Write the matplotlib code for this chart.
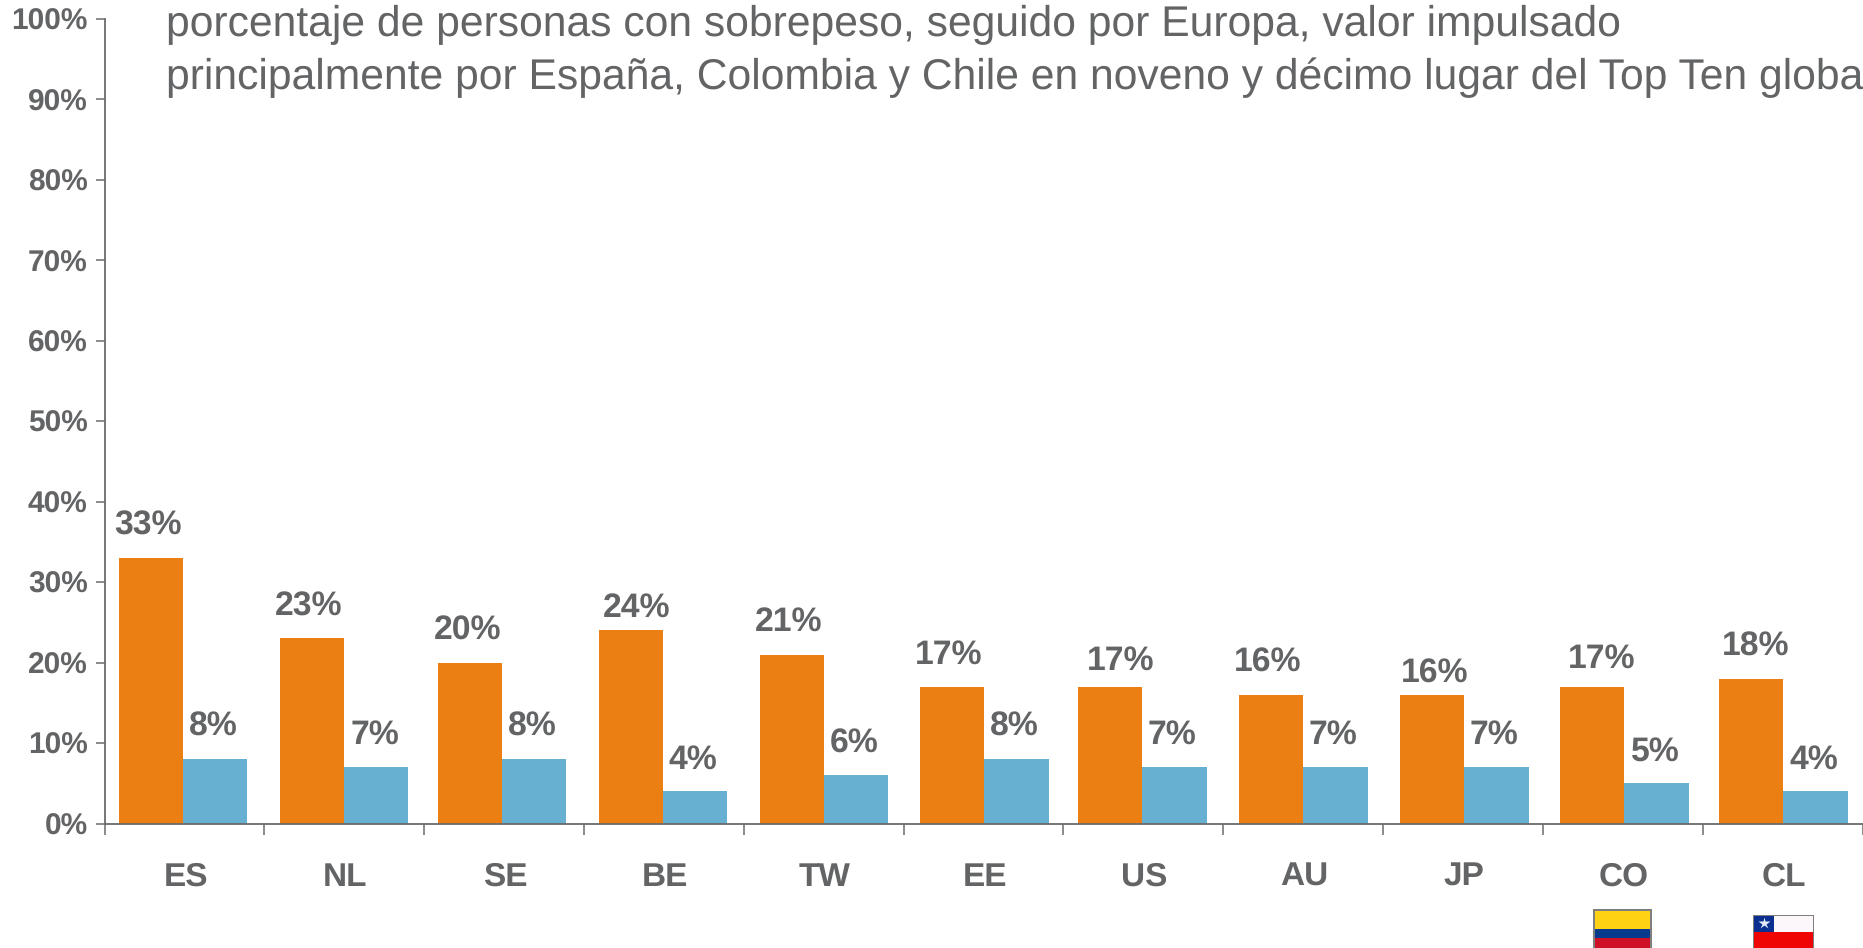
import matplotlib
matplotlib.use("Agg")
import matplotlib.pyplot as plt
from matplotlib.patches import Rectangle
import numpy as np

countries = ["ES", "NL", "SE", "BE", "TW", "EE", "US", "AU", "JP", "CO", "CL"]
orange_vals = [33, 23, 20, 24, 21, 17, 17, 16, 16, 17, 18]
blue_vals = [8, 7, 8, 4, 6, 8, 7, 7, 7, 5, 4]
y_ticks = [0, 10, 20, 30, 40, 50, 60, 70, 80, 90, 100]

# the groups are not quite evenly spaced in the original, pixels
group_nudge = [-1.4, -0.2, -2, -0.8, 0.4, 0.6, -1.2, 0, 1.2, 1.4, 0.6]

# nudges of the value labels, in pixels (x from bar centre, y above bar top)
orange_dx = [-2.5, -3, -2.5, 5.5, -3.5, -3, 10.5, -3, 3, 10, 5]
orange_dy = [23, 23, 23, 13, 23, 23, 17, 23, 12, 19, 23]
blue_dx = [-2, -1.5, -2, -2.5, -2, -1.5, -2, -2.5, -2, -1, -1.5]
blue_dy = [23, 23, 23, 23, 23, 23, 23, 23, 23, 23, 23]

text_lines = [
    "porcentaje de personas con sobrepeso, seguido por Europa, valor impulsado",
    "principalmente por España, Colombia y Chile en noveno y décimo lugar del Top Ten global",
]

GREY = "#636466"
ORANGE = "#EC7F13"
BLUE = "#68B0D1"
W, H = 1863, 948

plt.rcParams["font.family"] = ["Liberation Sans", "DejaVu Sans"]
plt.rcParams["text.hinting"] = "no_hinting"

fig = plt.figure(figsize=(W / 100, H / 100), dpi=100)
x0, x1, y0, y1 = 104.5, 1862.5, 823.5, 19.0
ax = fig.add_axes([x0 / W, 1 - y0 / H, (x1 - x0) / W, (y0 - y1) / H])
ax.set_xlim(0, len(countries))
ax.set_ylim(0, 100)

idx = np.arange(len(countries))
w = 0.403
px = len(countries) / (x1 - x0)
mid = idx + 0.5 + np.array(group_nudge) * px
ax.bar(mid - w, orange_vals, w, align="edge", color=ORANGE)
ax.bar(mid, blue_vals, w, align="edge", color=BLUE)

for i in idx:
    ax.annotate(f"{orange_vals[i]}%", (mid[i] - w / 2, orange_vals[i]),
                xytext=(orange_dx[i] * 0.72, orange_dy[i] * 0.72), textcoords="offset points",
                ha="center", va="baseline", fontsize=24.3, fontweight="bold", color=GREY)
    ax.annotate(f"{blue_vals[i]}%", (mid[i] + w / 2, blue_vals[i]),
                xytext=(blue_dx[i] * 0.72, blue_dy[i] * 0.72), textcoords="offset points",
                ha="center", va="baseline", fontsize=24.3, fontweight="bold", color=GREY)

for side in ["top", "right"]:
    ax.spines[side].set_visible(False)
for side in ["left", "bottom"]:
    ax.spines[side].set_color("#6b6b6b")
    ax.spines[side].set_linewidth(1.3)

ax.set_yticks(y_ticks)
ax.set_yticklabels([f"{v}%" for v in y_ticks], fontsize=21.5, fontweight="bold", color=GREY)
ax.tick_params(axis="y", length=6.7, width=1.1, color="#6b6b6b", pad=5.4)

# boundaries get the tick marks, the names sit in the middle
ax.set_xticks(np.arange(len(countries) + 1))
ax.set_xticklabels([])
ax.set_xticks(idx + 0.5 + 1.2 * px, minor=True)
ax.set_xticklabels(countries, minor=True, fontsize=24, fontweight="bold", color=GREY)
ax.tick_params(axis="x", which="major", length=8, width=1.1, color="#6b6b6b")
ax.tick_params(axis="x", which="minor", length=0, pad=27.5)

for k, line in enumerate(text_lines):
    fig.text(166 / W, 1 - (36 + 52.7 * k) / H, line, fontsize=30.7, color=GREY, va="baseline")

# flags, in figure pixels
flag_ax = fig.add_axes([0, 0, 1, 1], zorder=5)
flag_ax.set_xlim(0, W)
flag_ax.set_ylim(H, 0)
flag_ax.axis("off")

flag_ax.add_patch(Rectangle((1593, 909), 58.5, 45, fc="#7f7f7f", ec="none"))
flag_ax.add_patch(Rectangle((1595, 911), 54.5, 18, fc="#FFD314", ec="none"))
flag_ax.add_patch(Rectangle((1595, 929), 54.5, 9, fc="#063A8C", ec="none"))
flag_ax.add_patch(Rectangle((1595, 938), 54.5, 12, fc="#CE1126", ec="none"))

flag_ax.add_patch(Rectangle((1752.5, 915), 61.5, 40, fc="#7f7f7f", ec="none"))
flag_ax.add_patch(Rectangle((1753.5, 916), 59.5, 16, fc="#FBF7FA", ec="none"))
flag_ax.add_patch(Rectangle((1753.5, 916), 20.5, 16, fc="#0B2F91", ec="none"))
flag_ax.add_patch(Rectangle((1753.5, 932), 59.5, 20, fc="#F00505", ec="none"))
flag_ax.plot([1764], [923], marker="*", ms=9, color="#E4ECF8", mec="none")
flag_ax.set_xlim(0, W)
flag_ax.set_ylim(H, 0)

fig.savefig("out.png", dpi=100)
plt.close(fig)
